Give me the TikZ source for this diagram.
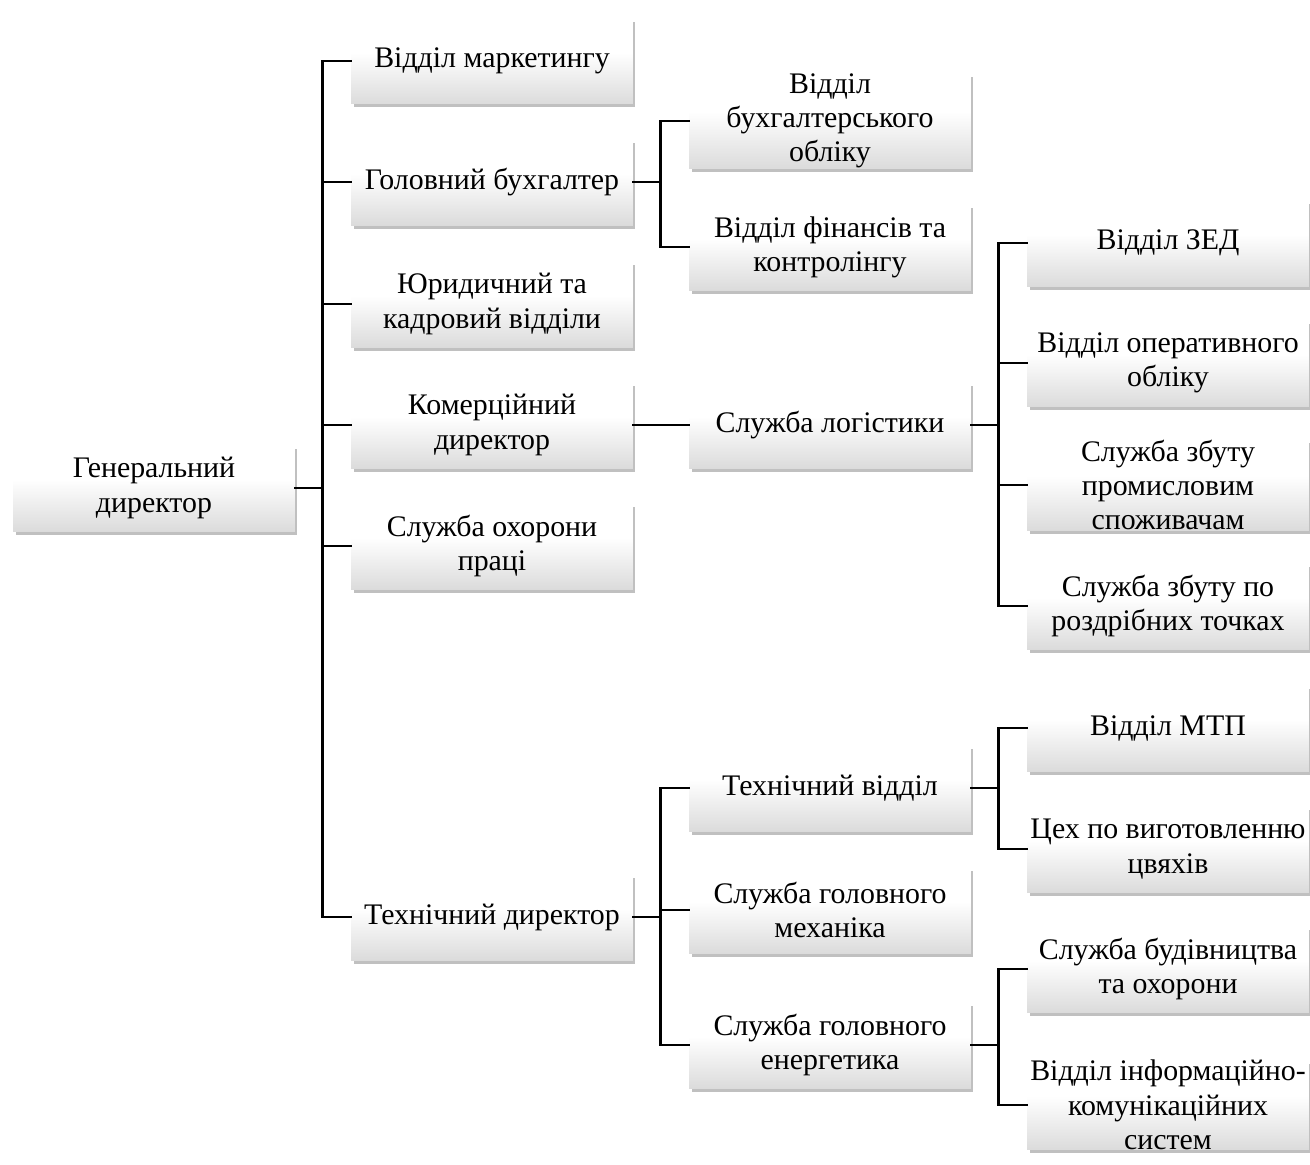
\documentclass[tikz,border=0pt]{standalone}
\usepackage{fontspec}
\setmainfont{Liberation Serif}
\usetikzlibrary{shadows}
\pgfdeclareverticalshading{unitshade}{100bp}{color(0bp)=(black!14);
  color(25bp)=(black!14); color(55bp)=(white); color(100bp)=(white)}

\begin{document}
\begin{tikzpicture}[
  x=0.02cm, y=-0.02cm,
  unit/.style={shading=unitshade, draw=none,
               minimum width=5.64cm, minimum height=1.72cm, inner sep=0pt,
               align=center, font=\fontsize{17}{19.5}\selectfont,
               drop shadow={shadow xshift=0.05cm, shadow yshift=-0.07cm,
                            fill=black!55, opacity=0.45}},
  conn/.style={line width=1.6pt, line cap=rect}
]
  \useasboundingbox (0,0) rectangle (1310,1164);

  \node[unit] (gen)  at (154,488)  {Генеральний\\директор};

  \node[unit] (mark) at (492,61)   {Відділ маркетингу};
  \node[unit] (buh)  at (492,182)  {Головний бухгалтер};
  \node[unit] (jur)  at (492,304)  {Юридичний та\\кадровий відділи};
  \node[unit] (kom)  at (492,425)  {Комерційний\\директор};
  \node[unit] (ohor) at (492,546)  {Служба охорони\\праці};
  \node[unit] (tech) at (492,917)  {Технічний директор};

  \node[unit] (blik) at (830,121)  {Відділ\\бухгалтерського\\обліку};
  \node[unit] (fin)  at (830,247)  {Відділ фінансів та\\контролінгу};
  \node[unit] (log)  at (830,425)  {Служба логістики};
  \node[unit] (tvid) at (830,788)  {Технічний відділ};
  \node[unit] (meh)  at (830,910)  {Служба головного\\механіка};
  \node[unit] (ener) at (830,1045) {Служба головного\\енергетика};

  \node[unit] (zed)  at (1168,243)  {Відділ ЗЕД};
  \node[unit] (oper) at (1168,363)  {Відділ оперативного\\обліку};
  \node[unit] (prom) at (1168,485)  {Служба збуту\\промисловим\\споживачам};
  \node[unit] (rozd) at (1168,606)  {Служба збуту по\\роздрібних точках};
  \node[unit] (mtp)  at (1168,728)  {Відділ МТП};
  \node[unit] (cvya) at (1168,849)  {Цех по виготовленню\\цвяхів};
  \node[unit] (bud)  at (1168,969)  {Служба будівництва\\та охорони};
  \node[unit] (ikt)  at (1168,1105) {Відділ інформаційно-\\комунікаційних\\систем};

  \draw[conn] (gen.east) -- ++(27,0) coordinate (j1);
  \draw[conn] (j1 |- mark.west) -- (j1 |- tech.west);
  \foreach \c in {mark,buh,jur,kom,ohor,tech}
    \draw[conn] (j1 |- \c.west) -- (\c.west);

  \draw[conn] (buh.east) -- ++(27,0) coordinate (j2);
  \draw[conn] (j2 |- blik.west) -- (j2 |- fin.west);
  \foreach \c in {blik,fin}
    \draw[conn] (j2 |- \c.west) -- (\c.west);

  \draw[conn] (kom.east) -- (log.west);

  \draw[conn] (log.east) -- ++(27,0) coordinate (j3);
  \draw[conn] (j3 |- zed.west) -- (j3 |- rozd.west);
  \foreach \c in {zed,oper,prom,rozd}
    \draw[conn] (j3 |- \c.west) -- (\c.west);

  \draw[conn] (tech.east) -- ++(27,0) coordinate (j4);
  \draw[conn] (j4 |- tvid.west) -- (j4 |- ener.west);
  \foreach \c in {tvid,meh,ener}
    \draw[conn] (j4 |- \c.west) -- (\c.west);

  \draw[conn] (tvid.east) -- ++(27,0) coordinate (j5);
  \draw[conn] (j5 |- mtp.west) -- (j5 |- cvya.west);
  \foreach \c in {mtp,cvya}
    \draw[conn] (j5 |- \c.west) -- (\c.west);

  \draw[conn] (ener.east) -- ++(27,0) coordinate (j6);
  \draw[conn] (j6 |- bud.west) -- (j6 |- ikt.west);
  \foreach \c in {bud,ikt}
    \draw[conn] (j6 |- \c.west) -- (\c.west);
\end{tikzpicture}
\end{document}
